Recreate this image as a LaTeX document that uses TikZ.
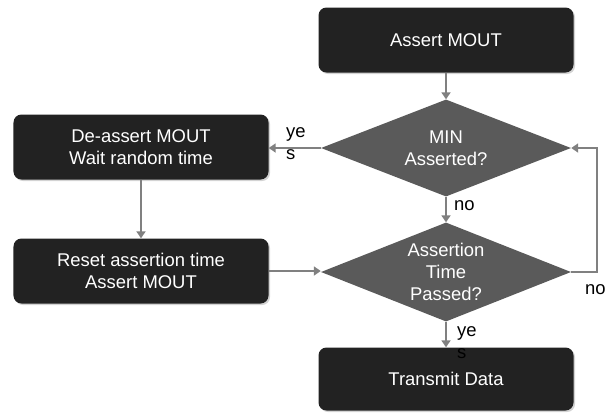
\documentclass[tikz,border=0pt]{standalone}
\usepackage{fontspec}
\setmainfont{Liberation Sans}
\usepackage{tikz}
\usetikzlibrary{arrows.meta, positioning, shapes.geometric, shadows}
\definecolor{boxfill}{HTML}{222222}
\definecolor{decfill}{HTML}{5A5A5A}
\definecolor{flowline}{HTML}{808080}

\begin{document}
\begin{tikzpicture}[x=1bp, y=1bp,
      procbox/.style={rectangle, rounded corners=8bp, fill=boxfill, text=white,
                      minimum width=255bp, minimum height=65bp, align=center,
                      font=\fontsize{18.5}{22}\selectfont,
                      drop shadow={opacity=0.35, shadow xshift=1.5bp, shadow yshift=-1.5bp}},
      decision/.style={diamond, fill=decfill, inner sep=0pt,
                       minimum width=250bp, minimum height=97bp},
      dectext/.style={text=white, align=center, font=\fontsize{18.5}{22}\selectfont},
      flow/.style={draw=flowline, line width=2bp, -{Triangle[length=7bp, width=9bp]}},
      lab/.style={font=\fontsize{18.5}{22}\selectfont, align=left, anchor=west, inner sep=0pt}]
      \useasboundingbox (0,0) rectangle (610,-412);
      % main column
      \node[procbox] (assert) at (446,-40) {Assert MOUT};
      \node[decision, label={[dectext]center:MIN\\Asserted?}] (minq) at (446,-148) {};
      \node[decision, minimum height=99bp,
            label={[dectext]center:Assertion\\Time\\Passed?}] (timeq) at (446,-272) {};
      \node[procbox, minimum height=63bp] (xmit) at (446,-379) {Transmit Data};
      % back-off column
      \node[procbox] (deassert) at (141,-147) {De-assert MOUT\\Wait random time};
      \node[procbox] (reset) at (141,-271) {Reset assertion time\\Assert MOUT};
      % connectors
      \draw[flow] (assert) -- (minq);
      \draw[flow] (minq) -- (timeq);
      \draw[flow] (timeq) -- (xmit);
      \draw[flow] (minq.west) -- (minq.west -| deassert.east);
      \draw[flow] (deassert) -- (reset);
      \draw[flow] (reset.east) -- (reset.east -| timeq.west);
      \draw[flow] (timeq.east) -- ++(26,0) |- (minq.east);
      % labels
      \node[lab] (yesleft) at (286,-144) {ye\\s};
      \node[lab] (nomid) at (454,-206) {no};
      \node[lab] (noright) at (585,-290) {no};
      \node[lab] (yesbottom) at (457,-343) {ye\\s};
    \end{tikzpicture}
\end{document}
